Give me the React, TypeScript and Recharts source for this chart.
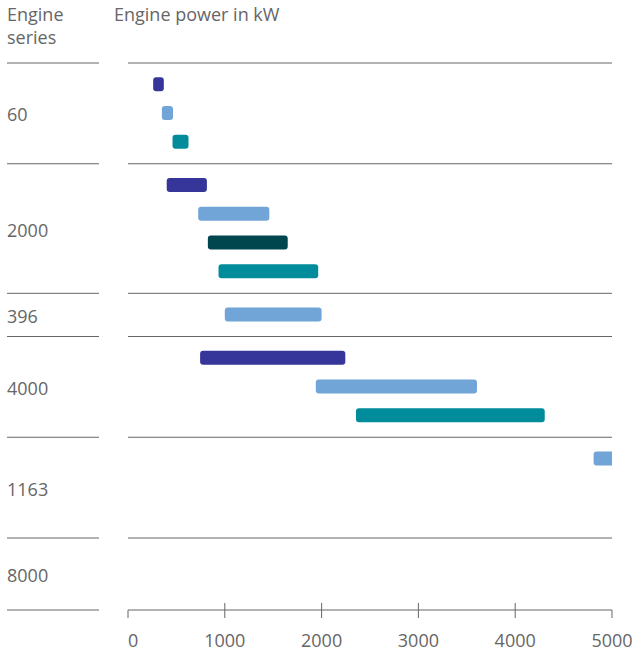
import { BarChart, Bar, XAxis, YAxis, ReferenceLine, Cell } from 'recharts';

// engine series, top to bottom, and how many bar rows each one reserves
const SERIES = ['60', '2000', '396', '4000', '1163', '8000'];
const SERIES_ROWS = [3, 4, 1, 3, 3, 2];

// one entry per bar (power range in kW)
const BAR_SERIES = ['60', '60', '60', '2000', '2000', '2000', '2000', '396', '4000', '4000', '4000', '1163'];
const BAR_MIN = [260, 350, 460, 400, 725, 825, 935, 1000, 745, 1940, 2355, 4810];
const BAR_MAX = [370, 465, 625, 815, 1460, 1650, 1965, 2000, 2245, 3605, 4305, 7400];
const BAR_TONE = ['navy', 'sky', 'teal', 'navy', 'sky', 'petrol', 'teal', 'sky', 'navy', 'sky', 'teal', 'sky'];

const POWER_TICKS = [0, 1000, 2000, 3000, 4000, 5000];

const TONES: Record<string, string> = {
  navy: '#35359a',
  sky: '#71a4d7',
  petrol: '#00464f',
  teal: '#008c9a',
};

const FONT = "'Open Sans', sans-serif";
const GREY = '#666';

// group boundaries on the row scale (0.75 row padding above and below each group)
const boundaries: number[] = [0];
SERIES_ROWS.forEach((n, i) => boundaries.push(boundaries[i] + n + 0.5));
const labelPos = SERIES.map((_, i) => (boundaries[i] + boundaries[i + 1]) / 2);
const totalRows = boundaries[boundaries.length - 1];

const used: Record<string, number> = {};
const data = BAR_SERIES.map((s, i) => {
  const g = SERIES.indexOf(s);
  const k = used[s] ?? 0;
  used[s] = k + 1;
  return {
    series: s,
    row: boundaries[g] + 0.75 + k,
    range: [BAR_MIN[i], BAR_MAX[i]],
    tone: BAR_TONE[i],
  };
});

function SeriesTick(props: any) {
  const { x, y, width, payload } = props;
  const left = x - width;
  const li = labelPos.indexOf(payload.value);
  if (li >= 0) {
    return (
      <text x={left} y={y + 8} fill={GREY} fontSize={18} fontFamily={FONT}>
        {SERIES[li]}
      </text>
    );
  }
  return <line x1={left} x2={x - 29} y1={y} y2={y} stroke={GREY} strokeWidth={1} />;
}

function PowerTick(props: any) {
  const { x, y, payload, index, visibleTicksCount } = props;
  const edge = index === 0 || index === visibleTicksCount - 1;
  return (
    <g>
      <line x1={x} x2={x} y1={edge ? y : y - 7} y2={y + 8} stroke={GREY} strokeWidth={1} />
      <text
        x={x}
        y={y + 37}
        textAnchor={index === 0 ? 'start' : 'middle'}
        fill={GREY}
        fontSize={18}
        fontFamily={FONT}
      >
        {payload.value}
      </text>
    </g>
  );
}

export default function App() {
  return (
    <div style={{ position: 'absolute', left: 0, top: 0, width: 636, height: 650 }}>
      <svg
        width={636}
        height={60}
        style={{ position: 'absolute', left: 0, top: 0, pointerEvents: 'none' }}
      >
        <text x={7} y={21} fill={GREY} fontSize={18} fontFamily={FONT}>
          Engine
        </text>
        <text x={7} y={43.5} fill={GREY} fontSize={18} fontFamily={FONT}>
          series
        </text>
        <text x={114} y={21} fill={GREY} fontSize={18} fontFamily={FONT}>
          Engine power in kW
        </text>
      </svg>
      <BarChart
        width={636}
        height={650}
        data={data}
        layout="vertical"
        margin={{ top: 63, right: 24, bottom: 0, left: 7 }}
      >
        <XAxis
          type="number"
          domain={[0, 5000]}
          allowDataOverflow
          ticks={POWER_TICKS}
          interval={0}
          height={40}
          tickSize={0}
          tickMargin={0}
          tickLine={false}
          axisLine={{ stroke: GREY, strokeWidth: 1 }}
          tick={<PowerTick />}
        />
        <YAxis
          type="number"
          dataKey="row"
          domain={[0, totalRows]}
          width={121}
          ticks={[...boundaries.slice(0, -1), ...labelPos, totalRows]}
          interval={0}
          tickSize={0}
          tickMargin={0}
          tickLine={false}
          axisLine={false}
          tick={<SeriesTick />}
        />
        {boundaries.slice(0, -1).map((b) => (
          <ReferenceLine key={b} y={b} stroke={GREY} strokeWidth={1} />
        ))}
        <Bar dataKey="range" barSize={14} radius={3} isAnimationActive={false}>
          {data.map((d, i) => (
            <Cell key={i} fill={TONES[d.tone]} />
          ))}
        </Bar>
      </BarChart>
    </div>
  );
}
